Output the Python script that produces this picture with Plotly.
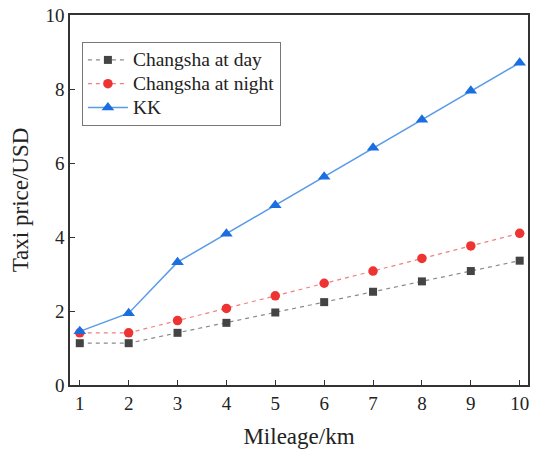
import plotly.graph_objects as go

mileage = [1, 2, 3, 4, 5, 6, 7, 8, 9, 10]
day = [1.13, 1.13, 1.41, 1.68, 1.96, 2.24, 2.52, 2.80, 3.08, 3.36]
night = [1.41, 1.41, 1.74, 2.07, 2.41, 2.75, 3.08, 3.42, 3.76, 4.10]
kk = [1.45, 1.94, 3.32, 4.09, 4.86, 5.63, 6.41, 7.17, 7.95, 8.71]
names = ["Changsha at day", "Changsha at night", "KK"]

font = "Liberation Serif, Times New Roman, serif"


def lab(s):
    return '<span style="font-size:19.5px">' + s + "</span>"


fig = go.Figure()
fig.add_trace(go.Scatter(x=mileage, y=day, name=lab(names[0]), mode="lines+markers",
                         line=dict(color="#8a8a8a", width=1.2, dash="4px,4px"),
                         marker=dict(symbol="square", size=8, color="#444444")))
fig.add_trace(go.Scatter(x=mileage, y=night, name=lab(names[1]), mode="lines+markers",
                         line=dict(color="#f08080", width=1.2, dash="4px,4px"),
                         marker=dict(symbol="circle", size=9.5, color="#ee3333")))
fig.add_trace(go.Scatter(x=mileage, y=kk, name=lab(names[2]), mode="lines+markers",
                         line=dict(color="#5a9be8", width=1.5),
                         marker=dict(symbol="triangle-up", size=11, color="#1a6ee0")))

fig.update_layout(
    width=533, height=450,
    margin=dict(l=70, r=5, t=15, b=65),
    paper_bgcolor="white", plot_bgcolor="white",
    font=dict(family=font, size=19, color="#222"),
    showlegend=True,
    legend=dict(x=0.026, y=0.927, xanchor="left", yanchor="top",
                bordercolor="#777", borderwidth=1, bgcolor="white",
                font=dict(family=font, size=16), tracegroupgap=0, itemwidth=40),
    xaxis=dict(range=[0.8, 10.17], tickmode="array", tickvals=mileage, automargin=False,
               ticks="inside", ticklen=5, tickcolor="#333", showline=True, linecolor="#333",
               linewidth=1.5, mirror=True, showgrid=False, zeroline=False,
               title=dict(text="Mileage/km", font=dict(size=23), standoff=15)),
    yaxis=dict(range=[0, 10], tickvals=[0, 2, 4, 6, 8, 10], automargin=False,
               ticks="inside", ticklen=5, tickcolor="#333", showline=True, linecolor="#333",
               linewidth=1.5, mirror=True, showgrid=False, zeroline=False,
               title=dict(text="Taxi price/USD", font=dict(size=23), standoff=10)),
)

fig.write_html("out.html", config={"displayModeBar": False},
               post_script="document.body.style.margin='0';document.body.style.overflow='hidden';")
